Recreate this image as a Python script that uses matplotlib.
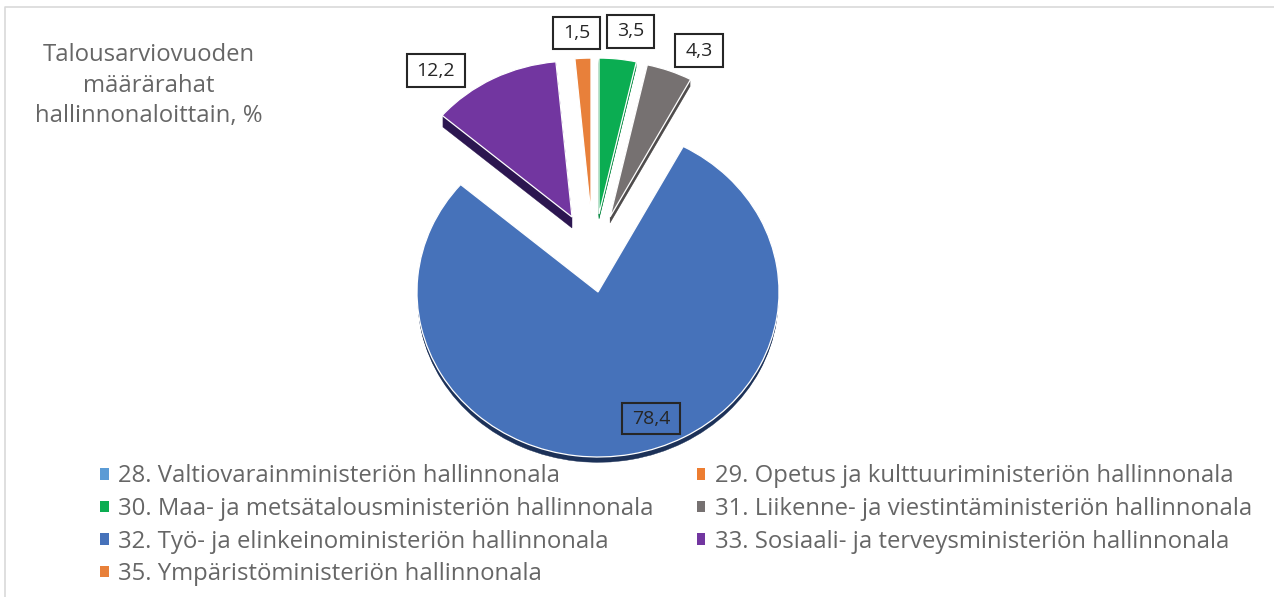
import matplotlib
matplotlib.use("Agg")
import matplotlib.pyplot as plt
from matplotlib.lines import Line2D
from matplotlib.patches import Patch, Rectangle, Wedge

W, H = 1274, 597
plt.rcParams['font.family'] = ['Open Sans', 'DejaVu Sans']

# legend order = slice order
categories = ["28. Valtiovarainministeriön hallinnonala",
              "29. Opetus ja kulttuuriministeriön hallinnonala",
              "30. Maa- ja metsätalousministeriön hallinnonala",
              "31. Liikenne- ja viestintäministeriön hallinnonala",
              "32. Työ- ja elinkeinoministeriön hallinnonala",
              "33. Sosiaali- ja terveysministeriön hallinnonala",
              "35. Ympäristöministeriön hallinnonala"]
values = [0, 0, 3.5, 4.3, 78.4, 12.2, 1.5]
value_labels = ["", "", "3,5", "4,3", "78,4", "12,2", "1,5"]
title_lines = ["Talousarviovuoden", "määrärahat", "hallinnonaloittain, %"]

colors = ["#5B9BD5", "#ED7D31", "#0BAD52", "#767171", "#4672BA", "#7236A0", "#E8803A"]
side_colors = ["#3a6a99", "#a55722", "#0a8a44", "#4f4c4c", "#1c3158", "#2c1650", "#c96a2c"]
# where each slice's tip sits in the picture (px), slice radius, side depth (px)
tips = [(598, 292), (598, 292), (599, 214), (610, 217), (598, 292), (572, 217), (591, 214)]
radii = [1, 1, .945, .945, 1, .945, .945]
depths = [0, 0, 5, 6, 6, 11, 0]
# label box: centre x, centre y, width, height (px)
label_boxes = [None, None, (630.5, 31.5, 47, 33), (699, 50.5, 48, 33), (651, 418.5, 58, 31), (436, 70.5, 58, 33), (576.5, 33, 47, 32)]

RX, RY = 181, 165
CX, CY = 598, 292


def to_data(px, py):
	return (px - CX) / RX, (CY - py) / RY


fig = plt.figure(figsize=(W / 100, H / 100), dpi=100, facecolor="white")
ax = fig.add_axes([0, 0, 1, 1])

wedges, _ = ax.pie(values, colors=colors, startangle=90, counterclock=False,
	wedgeprops=dict(edgecolor="white", linewidth=0.9))
ax.set_aspect("auto")
ax.set_xlim(to_data(0, 0)[0], to_data(W, 0)[0])
ax.set_ylim(to_data(0, H)[1], to_data(0, 0)[1])

for w, v, tip, r, d, side in zip(wedges, values, tips, radii, depths, side_colors):
	if v == 0:
		w.set_visible(False)
		continue
	c = to_data(*tip)
	w.set_center(c)
	w.set_radius(r)
	w.set_zorder(3)
	# stacked copies give the 3d side of the slice
	for k in range(1, d + 1):
		ax.add_patch(Wedge((c[0], c[1] - k / RY), r - 0.004, w.theta1, w.theta2, facecolor=side, edgecolor=side, linewidth=0.3, zorder=2))

for lab, box in zip(value_labels, label_boxes):
	if box is None:
		continue
	bx, by, bw, bh = box
	ax.add_patch(Rectangle(to_data(bx - bw / 2, by + bh / 2), bw / RX, bh / RY, facecolor="none", edgecolor="#262626", linewidth=1.5, zorder=5))
	tx, ty = to_data(bx, by)
	ax.text(tx, ty, lab, ha="center", va="center", fontsize=14, color="#262626", zorder=6)

for line, y in zip(title_lines, [55, 86, 116]):
	fig.text(149 / W, 1 - y / H, line, ha="center", va="center", fontsize=17.2, color="#666666")

# frame of the original screenshot, top and left only
fig.add_artist(Line2D([5 / W, 5 / W, 1], [0, 1 - 7 / H, 1 - 7 / H], color="#d9d9d9", linewidth=1.2))

order = [0, 2, 4, 6, 1, 3, 5]
handles = [Patch(facecolor=colors[i], edgecolor="none", label=categories[i]) for i in order]
fig.legend(handles=handles, ncols=2, loc="upper left", bbox_to_anchor=(100 / W, 1 - 464.5 / H), frameon=False,
	fontsize=17.2, labelcolor="#666666", handlelength=0.36, handleheight=0.36, handletextpad=0.4,
	labelspacing=0.36, columnspacing=1.8, borderpad=0, borderaxespad=0)

fig.savefig("out.png", dpi=100)
